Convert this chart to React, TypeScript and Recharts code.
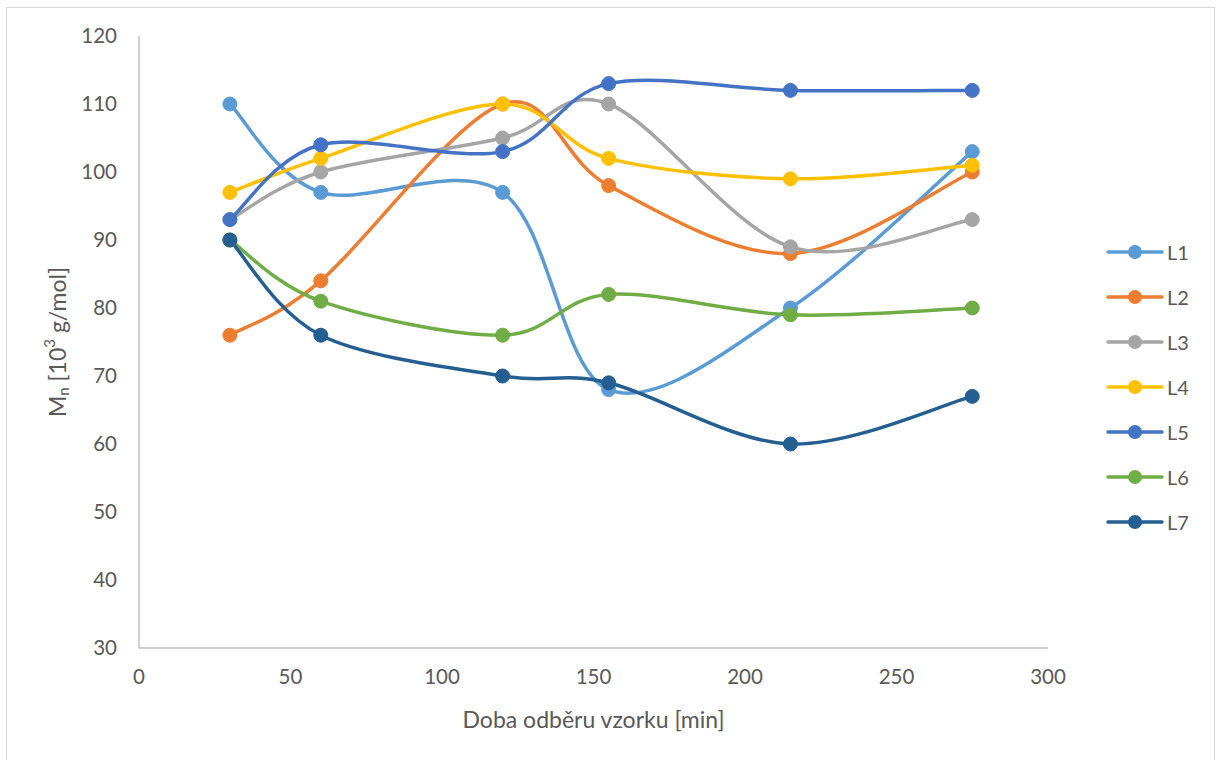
import React from 'react';
import { LineChart, Line, XAxis, YAxis, Legend } from 'recharts';

// sampling times [min]
const times = [30, 60, 120, 155, 215, 275];

// Mn values [10^3 g/mol] per sample line
const l1 = [110, 97, 97, 68, 80, 103];
const l2 = [76, 84, 110, 98, 88, 100];
const l3 = [93, 100, 105, 110, 89, 93];
const l4 = [97, 102, 110, 102, 99, 101];
const l5 = [93, 104, 103, 113, 112, 112];
const l6 = [90, 81, 76, 82, 79, 80];
const l7 = [90, 76, 70, 69, 60, 67];

const xTicks = [0, 50, 100, 150, 200, 250, 300];
const yTicks = [30, 40, 50, 60, 70, 80, 90, 100, 110, 120];

const series = [
  { key: 'L1', values: l1, color: '#5B9BD5' },
  { key: 'L2', values: l2, color: '#ED7D31' },
  { key: 'L3', values: l3, color: '#A5A5A5' },
  { key: 'L4', values: l4, color: '#FFC000' },
  { key: 'L5', values: l5, color: '#4472C4' },
  { key: 'L6', values: l6, color: '#70AD47' },
  { key: 'L7', values: l7, color: '#255E91' },
];

const data = times.map((t, i) => {
  const row: Record<string, number> = { t };
  series.forEach((s) => {
    row[s.key] = s.values[i];
  });
  return row;
});

const FONT = 'Lato, "Noto Sans", sans-serif';
const TEXT = '#595959';

// Catmull-Rom style smoothing (like spreadsheet "smoothed line")
const smoothCurve: any = (context: any) => {
  let pts: number[][] = [];
  return {
    areaStart() {},
    areaEnd() {},
    lineStart() {
      pts = [];
    },
    point(x: number, y: number) {
      pts.push([+x, +y]);
    },
    lineEnd() {
      if (!pts.length) return;
      context.moveTo(pts[0][0], pts[0][1]);
      for (let i = 0; i < pts.length - 1; i++) {
        const p0 = pts[i - 1] || pts[i];
        const p1 = pts[i];
        const p2 = pts[i + 1];
        const p3 = pts[i + 2] || pts[i + 1];
        context.bezierCurveTo(
          p1[0] + (p2[0] - p0[0]) / 6,
          p1[1] + (p2[1] - p0[1]) / 6,
          p2[0] - (p3[0] - p1[0]) / 6,
          p2[1] - (p3[1] - p1[1]) / 6,
          p2[0],
          p2[1]
        );
      }
    },
  };
};

const YLabel = ({ viewBox }: any) => {
  const cx = 57;
  const cy = viewBox.y + viewBox.height / 2;
  return (
    <text
      x={cx}
      y={cy}
      transform={`rotate(-90 ${cx} ${cy})`}
      textAnchor="middle"
      dominantBaseline="central"
      fill={TEXT}
      fontSize={23}
      fontFamily={FONT}
    >
      <tspan>M</tspan>
      <tspan fontSize={15} dy={6}>n</tspan>
      <tspan dy={-6}> [10</tspan>
      <tspan fontSize={15} dy={-8}>3</tspan>
      <tspan dy={8}> g/mol]</tspan>
    </text>
  );
};

const LegendBox = () => (
  <div style={{ fontFamily: FONT, fontSize: 20, color: TEXT }}>
    {series.map((s) => (
      <div key={s.key} style={{ display: 'flex', alignItems: 'center', height: 45 }}>
        <svg width={58} height={20}>
          <line x1={2} y1={10} x2={56} y2={10} stroke={s.color} strokeWidth={3.5} strokeLinecap="round" />
          <circle cx={29} cy={10} r={7} fill={s.color} />
        </svg>
        <span style={{ marginLeft: 3 }}>{s.key}</span>
      </div>
    ))}
  </div>
);

export default function App() {
  return (
    <div style={{ position: 'relative', width: 1222, height: 760, background: '#fff' }}>
      <style>{'body{margin:0}'}</style>
      <div
        style={{
          position: 'absolute',
          left: 6,
          top: 7,
          width: 1209,
          height: 760,
          border: '1px solid #d9d9d9',
          boxSizing: 'border-box',
        }}
      />
      <div style={{ position: 'absolute', left: 0, top: 0 }}>
        <LineChart
          width={1222}
          height={760}
          data={data}
          margin={{ top: 36, right: 174, bottom: 0, left: 79 }}
        >
          <XAxis
            dataKey="t"
            type="number"
            domain={[0, 300]}
            ticks={xTicks}
            height={112}
            tickLine={false}
            tickSize={0}
            tickMargin={21}
            axisLine={{ stroke: '#bfbfbf', strokeWidth: 1.5 }}
            tick={{ fill: TEXT, fontSize: 20.5, fontFamily: FONT }}
            label={{
              value: 'Doba odběru vzorku [min]',
              position: 'insideBottom',
              offset: 32,
              fill: TEXT,
              fontSize: 23,
              fontFamily: FONT,
            }}
          />
          <YAxis
            type="number"
            domain={[30, 120]}
            ticks={yTicks}
            width={60}
            tickLine={false}
            tickSize={0}
            tickMargin={22}
            axisLine={{ stroke: '#bfbfbf', strokeWidth: 1.5 }}
            tick={{ fill: TEXT, fontSize: 20.5, fontFamily: FONT }}
            label={<YLabel />}
          />
          <Legend
            layout="vertical"
            align="center"
            verticalAlign="middle"
            content={<LegendBox />}
            wrapperStyle={{ position: 'absolute', left: 1106, top: 229, width: 90 }}
          />
          {series.map((s) => (
            <Line
              key={s.key}
              dataKey={s.key}
              type={smoothCurve}
              stroke={s.color}
              strokeWidth={3.5}
              dot={{ r: 7, fill: s.color, stroke: s.color, strokeWidth: 1 }}
              activeDot={false}
              isAnimationActive={false}
            />
          ))}
        </LineChart>
      </div>
    </div>
  );
}
